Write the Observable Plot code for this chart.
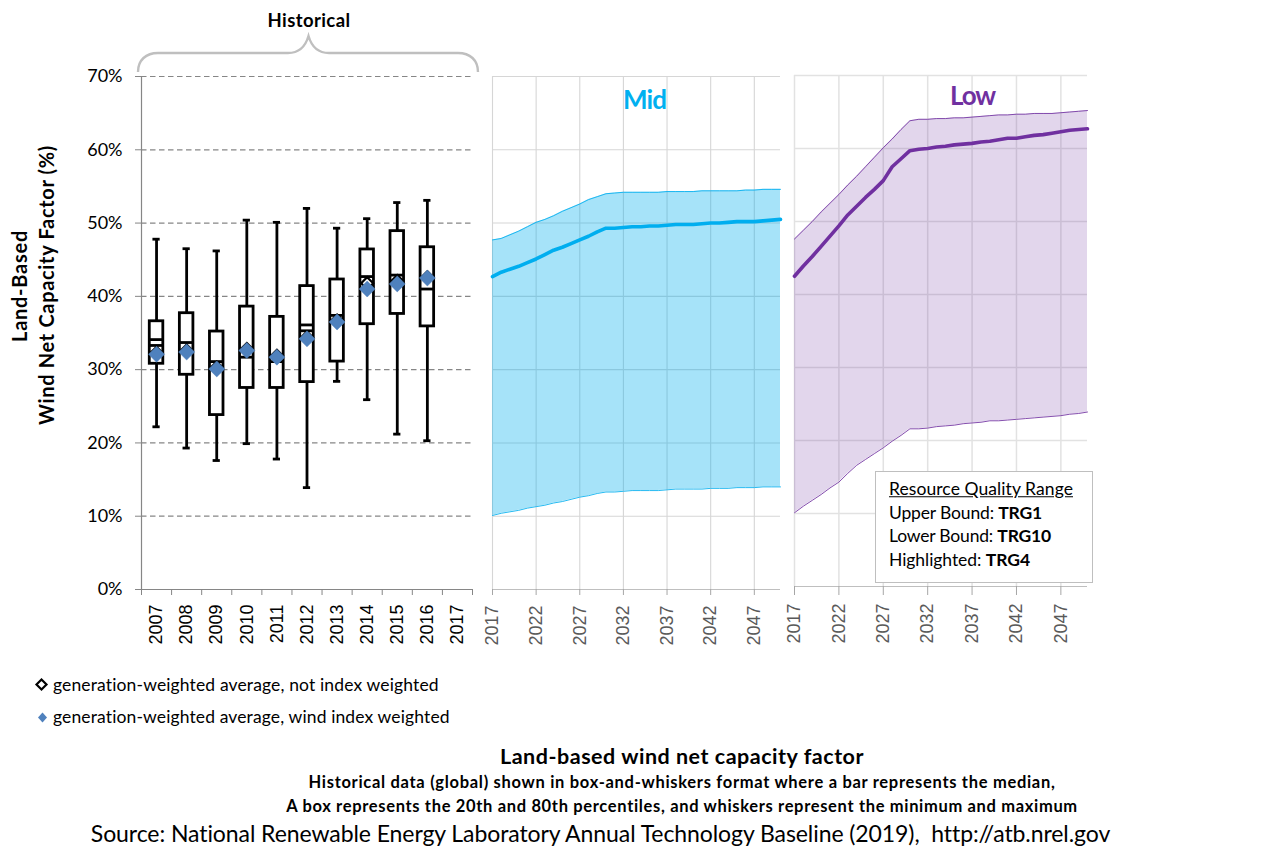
<!DOCTYPE html>
<html>
<head>
<meta charset="utf-8">
<script src="https://cdn.jsdelivr.net/npm/d3@7"></script>
<script src="https://cdn.jsdelivr.net/npm/@observablehq/plot@0.6"></script>
<style>
html,body{margin:0;padding:0;background:#fff}
#stage{position:relative;width:1284px;height:859px;overflow:hidden;font-family:Lato,sans-serif;color:#000}
#stage>svg,#stage>figure{position:absolute;left:0;top:0;margin:0}
.t{position:absolute;white-space:nowrap;line-height:1}
#box{position:absolute;left:875px;top:471px;width:216px;height:110px;background:#fff;border:1px solid #bfbfbf}
</style>
</head>
<body>
<div id="stage"></div>
<script>
// Historical box-and-whisker values (%)
const years        = [2007,2008,2009,2010,2011,2012,2013,2014,2015,2016];
const whiskerHigh  = [47.8,46.5,46.2,50.4,50.1,52.0,49.3,50.6,52.8,53.1];
const boxHigh      = [36.6,37.7,35.2,38.6,37.2,41.4,42.3,46.4,48.9,46.7];
const medians      = [34.1,33.7,31.1,31.7,31.1,36.1,37.4,42.7,42.9,41.0];
const extraBars    = [33.3,null,null,null,null,35.3,null,null,null,null];
const boxLow       = [30.8,29.3,23.8,27.5,27.5,28.3,31.1,36.2,37.6,35.9];
const whiskerLow   = [22.2,19.3,17.6,19.9,17.8,13.9,28.4,25.9,21.2,20.3];
const windWeighted = [32.1,32.4,30.1,32.6,31.7,34.2,36.5,41.0,41.7,42.5];
const notWeighted  = [32.3,32.6,30.3,32.8,31.9,34.4,36.7,41.8,42.1,42.6];
const catLabels    = [2007,2008,2009,2010,2011,2012,2013,2014,2015,2016,2017];
const yTicks       = [0,10,20,30,40,50,60,70];

// Projections (%)
const projYears = d3.range(2017,2051);
const projTicks = [2017,2022,2027,2032,2037,2042,2047];
const midUpper  = [47.7,47.9,48.4,48.9,49.5,50.1,50.5,51.0,51.6,52.1,52.6,53.2,53.6,54.0,54.1,54.2,54.2,54.2,54.2,54.2,54.3,54.3,54.3,54.3,54.4,54.4,54.4,54.4,54.4,54.5,54.5,54.6,54.6,54.6];
const midCenter = [42.7,43.3,43.7,44.1,44.6,45.1,45.7,46.3,46.7,47.2,47.7,48.2,48.8,49.3,49.3,49.4,49.5,49.5,49.6,49.6,49.7,49.8,49.8,49.8,49.9,50.0,50.0,50.1,50.2,50.2,50.2,50.3,50.4,50.5];
const midLower  = [10.1,10.4,10.6,10.8,11.1,11.3,11.5,11.8,12.0,12.3,12.6,12.8,13.1,13.3,13.3,13.4,13.5,13.5,13.5,13.5,13.6,13.7,13.7,13.7,13.7,13.8,13.8,13.8,13.9,13.9,13.9,14.0,14.0,14.0];
const lowUpper  = [47.6,48.8,50.0,51.3,52.5,53.7,55.0,56.2,57.5,58.8,60.1,61.3,62.6,63.8,64.0,64.0,64.1,64.1,64.2,64.2,64.3,64.4,64.5,64.6,64.6,64.7,64.7,64.8,64.8,64.8,64.9,65.0,65.1,65.2];
const lowCenter = [42.5,43.9,45.2,46.6,48.0,49.4,50.9,52.1,53.3,54.4,55.6,57.5,58.6,59.7,59.9,60.0,60.2,60.3,60.5,60.6,60.7,60.9,61.0,61.2,61.4,61.4,61.6,61.8,61.9,62.1,62.3,62.5,62.6,62.7];
const lowLower  = [10.1,11.0,11.8,12.6,13.5,14.3,15.5,16.6,17.4,18.2,19.0,19.9,20.7,21.6,21.6,21.7,21.9,22.0,22.1,22.3,22.4,22.5,22.7,22.7,22.8,22.9,23.0,23.1,23.2,23.3,23.4,23.6,23.7,23.9];

const stage = document.getElementById("stage");
const W = 1284, H = 660;
const hist = years.map((year,i)=>({year,hi:whiskerHigh[i],q3:boxHigh[i],med:medians[i],extra:extraBars[i],q1:boxLow[i],lo:whiskerLow[i],wind:windWeighted[i],plain:notWeighted[i]}));
const LINE = "Liberation Sans, Arial, sans-serif";
const GRAY = "#868686";

// Left panel
const boxHalf = 0.225, capHalf = 0.12, lw = 2.8;
stage.append(Plot.plot({
  width:W, height:H, marginLeft:141, marginRight:W-472, marginTop:76, marginBottom:H-589,
  style:{background:"transparent",fontFamily:"Lato",fontSize:"18px",color:"#000",overflow:"visible"},
  x:{domain:[2006.5,2017.5]},
  y:{domain:[0,70]},
  marks:[
    Plot.ruleY(yTicks.filter(d=>d>0),{y:d=>d,stroke:GRAY,strokeWidth:1.2,strokeDasharray:"5.5,3.5"}),
    Plot.axisY({ticks:yTicks,tickFormat:d=>d+"%",tickSize:6,tickPadding:13,label:null,stroke:GRAY,fontSize:18,strokeOpacity:1}),
    Plot.ruleX([2006.5],{stroke:GRAY,strokeWidth:1.2}),
    Plot.ruleY([0],{stroke:GRAY,strokeWidth:1.2}),
    Plot.axisX({ticks:d3.range(2006.5,2018),tickFormat:()=>"",tickSize:6,label:null,stroke:GRAY}),
    Plot.axisX({ticks:catLabels,tickFormat:d=>String(d),tickSize:0,tickPadding:15,tickRotate:-90,label:null,fontFamily:LINE,fontSize:18,fill:"#000"}),
    Plot.ruleX(hist,{x:"year",y1:"lo",y2:"hi",stroke:"#000",strokeWidth:lw}),
    Plot.ruleY(hist,{y:"hi",x1:d=>d.year-capHalf,x2:d=>d.year+capHalf,stroke:"#000",strokeWidth:lw}),
    Plot.ruleY(hist,{y:"lo",x1:d=>d.year-capHalf,x2:d=>d.year+capHalf,stroke:"#000",strokeWidth:lw}),
    Plot.rect(hist,{x1:d=>d.year-boxHalf,x2:d=>d.year+boxHalf,y1:"q1",y2:"q3",fill:"#fff",stroke:"#000",strokeWidth:lw}),
    Plot.ruleY(hist,{y:"med",x1:d=>d.year-boxHalf,x2:d=>d.year+boxHalf,stroke:"#000",strokeWidth:lw}),
    Plot.ruleY(hist.filter(d=>d.extra!=null),{y:"extra",x1:d=>d.year-boxHalf,x2:d=>d.year+boxHalf,stroke:"#000",strokeWidth:lw}),
    Plot.dot(hist,{x:"year",y:"plain",symbol:"diamond2",r:5.4,fill:"#fff",stroke:"#000",strokeWidth:2.2}),
    Plot.dot(hist,{x:"year",y:"wind",symbol:"diamond2",r:7.2,fill:"#4F81BD",stroke:"#4F81BD",strokeWidth:.5})
  ]
}));

// Projection panels
function panel(cfg){
  const rows = projYears.map((year,i)=>({year,up:cfg.up[i],c:cfg.c[i],lo:cfg.lo[i]}));
  return Plot.plot({
    width:W, height:H, marginLeft:cfg.l, marginRight:W-cfg.r, marginTop:cfg.t, marginBottom:H-cfg.b,
    style:{background:"transparent",fontFamily:LINE,fontSize:"18px",color:"#595959",overflow:"visible"},
    x:{domain:[2017,2050]},
    y:{domain:[0,70],axis:null},
    marks:[
      Plot.ruleY([10,20,30,40,50,60,70],{y:d=>d,stroke:cfg.grid,strokeWidth:cfg.gw}),
      Plot.ruleX(projTicks,{x:d=>d,stroke:cfg.grid,strokeWidth:cfg.gw}),
      Plot.ruleY([0],{stroke:"#bfbfbf",strokeWidth:1.2}),
      Plot.axisX({ticks:projTicks,tickFormat:d=>String(d),tickSize:cfg.ts,tickPadding:cfg.tp,tickRotate:-90,label:null,stroke:"#a6a6a6",fontFamily:LINE,fontSize:18,fill:"#595959"}),
      Plot.areaY(rows,{x:"year",y1:"lo",y2:"up",fill:cfg.col,fillOpacity:cfg.op}),
      Plot.lineY(rows,{x:"year",y:"up",stroke:cfg.col,strokeWidth:1,strokeOpacity:.85}),
      Plot.lineY(rows,{x:"year",y:"lo",stroke:cfg.col,strokeWidth:1,strokeOpacity:.85}),
      Plot.lineY(rows,{x:"year",y:"c",stroke:cfg.col,strokeWidth:3.6})
    ]
  });
}
stage.append(panel({l:492,r:780,t:76,b:589,up:midUpper,c:midCenter,lo:midLower,col:"#00AEEF",op:.35,grid:"#d6d6d6",gw:1.1,ts:6,tp:10}));
stage.append(panel({l:794,r:1087,t:75,b:586,up:lowUpper,c:lowCenter,lo:lowLower,col:"#7030A0",op:.2,grid:"#e2e2e2",gw:1.5,ts:9,tp:8}));

// Brace and legend markers
const ns = "http://www.w3.org/2000/svg";
const deco = document.createElementNS(ns,"svg");
deco.setAttribute("width",W); deco.setAttribute("height",859);
deco.innerHTML =
 '<path d="M138 72C138 60 146 53 158 53H288C298 53 305 48 308.5 36C312 48 319 53 329 53H458C470 53 478 60 478 72" fill="none" stroke="#bfbfbf" stroke-width="2.4"/>'+
 '<path d="M41.500 679.500L46.500 684.500L41.500 689.500L36.500 684.500Z" fill="#fff" stroke="#000" stroke-width="2.2"/>'+
 '<path d="M42.500 712.500L47 717.500L42.500 722.500L38 717.500Z" fill="#4F81BD"/>';
stage.append(deco);

// Text helper: places a line and spaces it to the reference width
function label(html,o){
  const e=document.createElement("div");
  e.className="t"; e.innerHTML=html;
  e.style.fontSize=o.size+"px";
  e.style.fontWeight=o.bold?"700":"400";
  if(o.color) e.style.color=o.color;
  if(o.u) e.style.textDecoration="underline";
  (o.parent||stage).append(e);
  const n=e.textContent.length, w=e.getBoundingClientRect().width;
  if(o.width) e.style.letterSpacing=((o.width-w)/n)+"px";
  const rot=o.rot?" rotate(-90deg)":"";
  e.style.left=o.x+"px"; e.style.top=o.y+"px";
  e.style.transform=(o.left?"translate(0,-50%)":"translate(-50%,-50%)")+rot;
  return e;
}
label("Historical",{x:309,y:20,size:18.500,bold:true,width:83});
label("Mid",{x:644.500,y:99,size:26,bold:true,color:"#00B0F0",width:43});
label("Low",{x:972.500,y:95,size:26,bold:true,color:"#7030A0",width:45});
label("Land-Based",{x:19,y:286,size:20,bold:true,width:112,rot:true});
label("Wind Net Capacity Factor (%)",{x:46,y:285,size:20,bold:true,width:280,rot:true});

const box=document.createElement("div"); box.id="box"; stage.append(box);
label("Resource Quality Range",{x:889,y:489,size:17.500,left:true,u:true,width:184});
label("Upper Bound: <b>TRG1</b>",{x:889,y:513,size:17.500,left:true,width:153});
label("Lower Bound: <b>TRG10</b>",{x:889,y:536,size:17.500,left:true,width:162});
label("Highlighted: <b>TRG4</b>",{x:889,y:560,size:17.500,left:true,width:141});

label("generation-weighted average, not index weighted",{x:53,y:685,size:17.500,left:true,width:386});
label("generation-weighted average, wind index weighted",{x:53,y:717,size:17.500,left:true,width:397});
label("Land-based wind net capacity factor",{x:682,y:757,size:21.500,bold:true,width:364});
label("Historical data (global) shown in box-and-whiskers format where a bar represents the median,",{x:682,y:782,size:16.500,bold:true,width:747});
label("A box represents the 20th and 80th percentiles, and whiskers represent the minimum and maximum",{x:682,y:806,size:16.500,bold:true,width:792});
label("Source: National Renewable Energy Laboratory Annual Technology Baseline (2019),&nbsp; http://atb.nrel.gov",{x:600.500,y:833,size:23,width:1019});
</script>
</body>
</html>
